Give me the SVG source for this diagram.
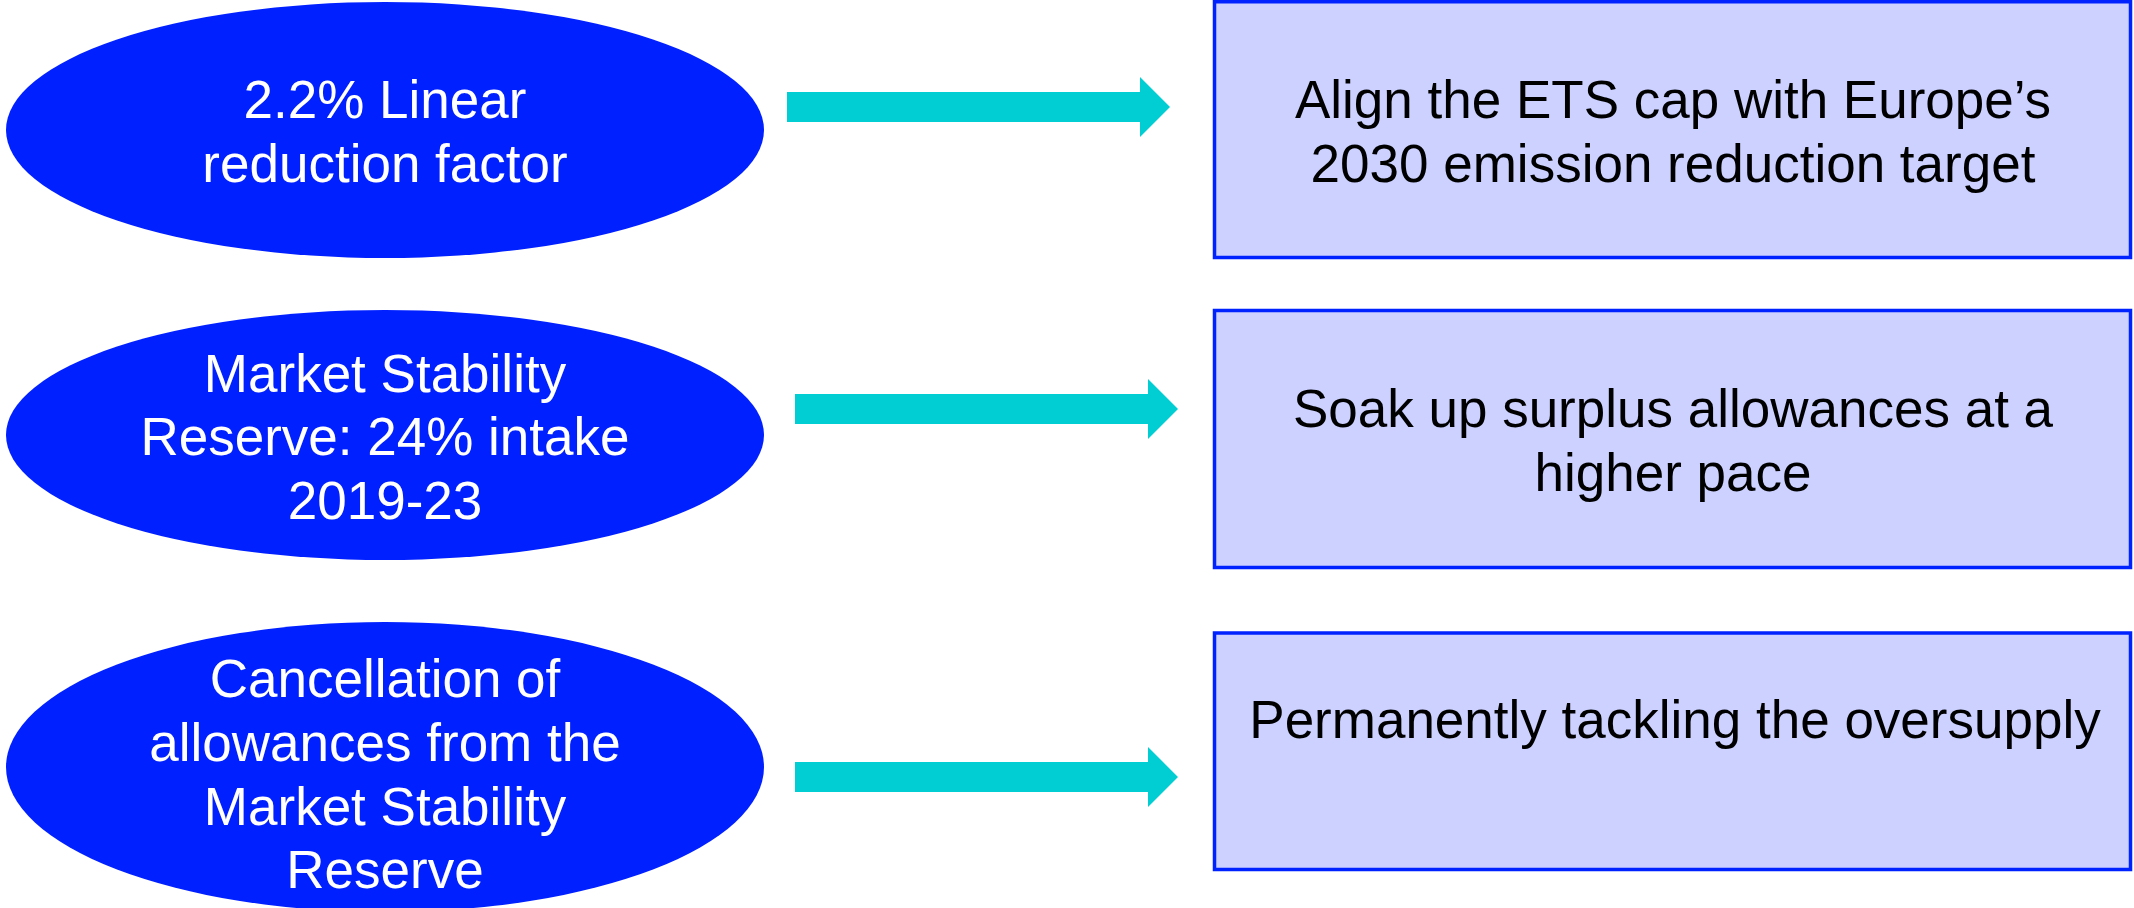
<svg xmlns="http://www.w3.org/2000/svg" width="2134" height="908" viewBox="0 0 2134 908">
<style>
.ell{fill:#0020FF;}
.box{fill:#CCD1FF;stroke:#0022FF;stroke-width:3.5;}
.arr{fill:#00CED3;}
text{font-family:"Liberation Sans",Arial,sans-serif;font-size:53px;text-anchor:middle;}
.w{fill:#FFFFFF;}
.k{fill:#000000;}
</style>
<rect width="2134" height="908" fill="#FFFFFF"/>
<g id="node-lrf">
<ellipse class="ell" cx="385" cy="130" rx="379" ry="128"/>
<text class="w" x="385" y="118">2.2% Linear</text>
<text class="w" x="385" y="182">reduction factor</text>
</g>
<g id="node-msr">
<ellipse class="ell" cx="385" cy="435" rx="379" ry="125"/>
<text class="w" x="385" y="392">Market Stability</text>
<text class="w" x="385" y="455">Reserve: 24% intake</text>
<text class="w" x="385" y="519">2019-23</text>
</g>
<g id="node-cancel">
<ellipse class="ell" cx="385" cy="767" rx="379" ry="145"/>
<text class="w" x="385" y="697">Cancellation of</text>
<text class="w" x="385" y="761">allowances from the</text>
<text class="w" x="385" y="825">Market Stability</text>
<text class="w" x="385" y="888">Reserve</text>
</g>
<g id="node-align">
<rect class="box" x="1214.5" y="1.75" width="916" height="255.75"/>
<text class="k" x="1673" y="118">Align the ETS cap with Europe’s</text>
<text class="k" x="1673" y="182">2030 emission reduction target</text>
</g>
<g id="node-soak">
<rect class="box" x="1214.5" y="310.5" width="916" height="257"/>
<text class="k" x="1673" y="427">Soak up surplus allowances at a</text>
<text class="k" x="1673" y="491">higher pace</text>
</g>
<g id="node-perm">
<rect class="box" x="1214.5" y="633" width="916" height="236.5"/>
<text class="k" x="1675" y="738">Permanently tackling the oversupply</text>
</g>
<g id="connectors">
<polygon class="arr" points="787,92 1140,92 1140,77 1170,107 1140,137 1140,122 787,122"/>
<polygon class="arr" points="795,394 1148,394 1148,379 1178,409 1148,439 1148,424 795,424"/>
<polygon class="arr" points="795,762 1148,762 1148,747 1178,777 1148,807 1148,792 795,792"/>
</g>
</svg>
